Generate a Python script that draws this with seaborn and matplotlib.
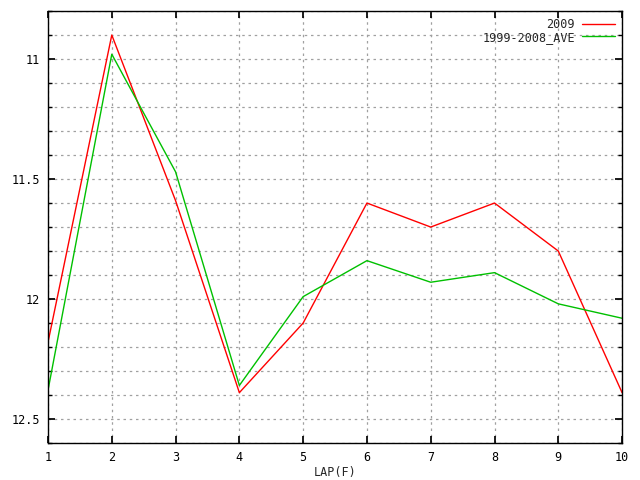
import numpy as np
import pandas as pd
import seaborn as sns
import matplotlib.pyplot as plt
from matplotlib.ticker import MultipleLocator

# ---------- datos ----------
laps = [1, 2, 3, 4, 5, 6, 7, 8, 9, 10]
tiempos_2009 = [12.18, 10.90, 11.59, 12.39, 12.10, 11.60, 11.70, 11.60, 11.80, 12.39]
tiempos_ave = [12.38, 10.98, 11.47, 12.36, 11.99, 11.84, 11.93, 11.89, 12.02, 12.08]
series = ["2009", "1999-2008_AVE"]
colores = ["#ff0000", "#00c000"]

df = pd.DataFrame({
    "LAP": laps * 2,
    "Tiempo": tiempos_2009 + tiempos_ave,
    "Serie": [series[0]] * len(laps) + [series[1]] * len(laps),
})

sns.set_theme(style="white")
plt.rcParams["font.family"] = ["DejaVu Sans Mono", "DejaVu Sans"]

fig = plt.figure(figsize=(6.4, 4.8), dpi=100)
ax = fig.add_axes([0.075, 0.077, 0.897, 0.9])

sns.lineplot(data=df, x="LAP", y="Tiempo", hue="Serie", palette=colores,
             linewidth=1, ax=ax)

ax.set_xlim(1, 10)
ax.set_ylim(12.6, 10.8)
ax.xaxis.set_major_locator(MultipleLocator(1))
ax.yaxis.set_minor_locator(MultipleLocator(0.1))
ax.set_yticks([11, 11.5, 12, 12.5])
ax.set_yticklabels(["11", "11.5", "12", "12.5"])

ax.grid(True, which="both", axis="y", color="#a0a0a0", linestyle=(0, (2, 3)), linewidth=0.9)
ax.grid(True, which="major", axis="x", color="#a0a0a0", linestyle=(0, (2, 3)), linewidth=0.9)

for s in ax.spines.values():
    s.set_color("black")
    s.set_linewidth(1)

ax.tick_params(axis="both", which="both", direction="in", colors="black",
               labelsize=8.5, top=True, right=True, left=True, bottom=True)
ax.tick_params(axis="both", which="major", length=5, pad=6)
ax.tick_params(axis="y", which="minor", length=3)

ax.set_xlabel("LAP(F)", fontsize=8.5, labelpad=1)
ax.set_ylabel("")

ax.legend(loc="upper right", frameon=False, markerfirst=False, fontsize=8.5,
          handlelength=2.8, borderaxespad=0.2, labelspacing=-0.05,
          handletextpad=0.6)

fig.savefig("out.png", dpi=100)
